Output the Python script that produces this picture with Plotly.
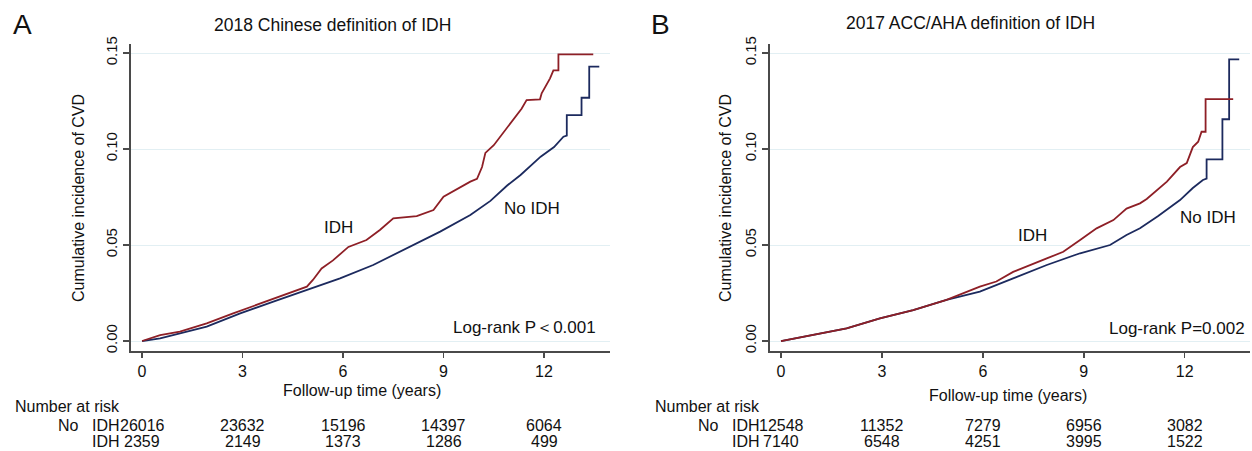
import plotly.graph_objects as go

# ---------------- data ----------------
# Panel A: 2018 Chinese definition of IDH
a_idh_t = [0, 0.54, 1.13, 1.93, 2.72, 3.42, 4.12, 4.92, 5.1, 5.36, 5.7, 6.16, 6.7, 7.1, 7.5, 8.2, 8.7,
           9.0, 9.8, 10.0, 10.15, 10.25, 10.5, 10.9, 11.33, 11.48, 11.88, 11.93, 12.08, 12.18, 12.28,
           12.43, 12.43, 13.47]
a_idh_v = [0, 0.0031, 0.0049, 0.0092, 0.0144, 0.0188, 0.0231, 0.0283, 0.0318, 0.0378, 0.042, 0.049,
           0.0526, 0.0578, 0.0639, 0.0651, 0.0682, 0.0752, 0.083, 0.0845, 0.0906, 0.098, 0.102, 0.111,
           0.121, 0.1255, 0.1259, 0.129, 0.1333, 0.1368, 0.141, 0.141, 0.1493, 0.1493]
a_no_t = [0, 0.54, 1.93, 2.93, 3.92, 4.92, 5.91, 6.9, 7.9, 8.9, 9.8, 10.4, 10.9, 11.3, 11.9, 12.3,
          12.58, 12.68, 12.68, 13.12, 13.12, 13.35, 13.35, 13.65]
a_no_v = [0, 0.0014, 0.0075, 0.0144, 0.0205, 0.0266, 0.0326, 0.0396, 0.0483, 0.057, 0.0656, 0.073,
          0.081, 0.0865, 0.096, 0.101, 0.1064, 0.107, 0.1177, 0.1177, 0.1267, 0.1267, 0.1429, 0.1429]

# Panel B: 2017 ACC/AHA definition of IDH
b_idh_t = [0, 0.96, 1.95, 2.94, 3.93, 4.92, 5.91, 6.4, 6.9, 7.9, 8.39, 8.89, 9.38, 9.88, 10.27, 10.67,
           10.87, 11.47, 11.86, 12.06, 12.24, 12.4, 12.5, 12.62, 12.62, 13.44]
b_idh_v = [0, 0.0031, 0.0066, 0.0118, 0.0161, 0.0214, 0.0283, 0.031, 0.036, 0.043, 0.0465, 0.0526,
           0.0587, 0.063, 0.069, 0.0717, 0.074, 0.083, 0.0906, 0.0927, 0.101, 0.1038, 0.109, 0.109,
           0.126, 0.126]
b_no_t = [0, 0.96, 1.95, 2.94, 3.93, 4.92, 5.91, 6.9, 7.9, 8.89, 9.78, 10.27, 10.67, 11.2, 11.86, 12.24,
          12.54, 12.65, 12.65, 13.12, 13.12, 13.32, 13.32, 13.62]
b_no_v = [0, 0.0031, 0.0066, 0.0118, 0.0161, 0.0214, 0.0257, 0.0326, 0.0396, 0.0457, 0.05, 0.0552,
          0.0587, 0.065, 0.0734, 0.0797, 0.0839, 0.0846, 0.0946, 0.0946, 0.1155, 0.1155, 0.1467, 0.1467]

risk_times = [0, 3, 6, 9, 12]
a_risk_no = [26016, 23632, 15196, 14397, 6064]
a_risk_idh = [2359, 2149, 1373, 1286, 499]
b_risk_no = [12548, 11352, 7279, 6956, 3082]
b_risk_idh = [7140, 6548, 4251, 3995, 1522]

x_ticks = [0, 3, 6, 9, 12]
y_ticks = [0.00, 0.05, 0.10, 0.15]
y_tick_text = ["0.00", "0.05", "0.10", "0.15"]

titles = ["2018 Chinese definition of IDH", "2017 ACC/AHA definition of IDH"]
pvals = ["Log-rank P\uff1c0.001", "Log-rank P=0.002"]

# ---------------- styling ----------------
W, H = 1252, 451
RED = "#8e1f26"
NAVY = "#1c2a5e"
FONT = "Liberation Sans, Arial, sans-serif"
AXC = "#4a4a4a"
GRID = "#e2eff3"


def px(x):
    return x / W


def py(y):
    return 1 - y / H


fig = go.Figure()

fig.add_trace(go.Scatter(x=a_no_t, y=a_no_v, mode="lines", line=dict(color=NAVY, width=1.8),
                         xaxis="x", yaxis="y", showlegend=False, hoverinfo="skip"))
fig.add_trace(go.Scatter(x=a_idh_t, y=a_idh_v, mode="lines", line=dict(color=RED, width=1.8),
                         xaxis="x", yaxis="y", showlegend=False, hoverinfo="skip"))
fig.add_trace(go.Scatter(x=b_no_t, y=b_no_v, mode="lines", line=dict(color=NAVY, width=1.8),
                         xaxis="x2", yaxis="y2", showlegend=False, hoverinfo="skip"))
fig.add_trace(go.Scatter(x=b_idh_t, y=b_idh_v, mode="lines", line=dict(color=RED, width=1.8),
                         xaxis="x2", yaxis="y2", showlegend=False, hoverinfo="skip"))

xax = dict(tickvals=x_ticks, ticks="outside", ticklen=5, tickwidth=1.4, tickcolor=AXC,
           showline=True, linecolor=AXC, linewidth=1.6, showgrid=False, zeroline=False,
           automargin=False, fixedrange=True,
           tickfont=dict(family=FONT, size=16, color="#111"))
yax = dict(tickvals=y_ticks, ticktext=y_tick_text, ticks="outside", ticklen=6, tickwidth=1.4,
           tickcolor=AXC, showline=True, linecolor=AXC, linewidth=1.6, showgrid=True,
           gridcolor=GRID, gridwidth=1, zeroline=False, tickangle=-90, automargin=False,
           fixedrange=True, range=[-0.0052, 0.1547],
           tickfont=dict(family=FONT, size=15, color="#111"))

y_dom = [py(351), py(44)]
fig.update_layout(
    width=W, height=H, margin=dict(l=0, r=0, t=0, b=0, pad=0, autoexpand=False),
    plot_bgcolor="white", paper_bgcolor="white",
    xaxis=dict(xax, domain=[px(131), px(610)], range=[-0.33, 13.97], anchor="y"),
    yaxis=dict(yax, domain=y_dom, anchor="x"),
    xaxis2=dict(xax, domain=[px(770), px(1250)], range=[-0.327, 13.94], anchor="y2"),
    yaxis2=dict(yax, domain=y_dom, anchor="x2"),
)

ann = []


def text(x, y, s, size=16, xanchor="center", angle=0, xref="paper"):
    ann.append(dict(x=x, y=py(y), xref=xref, yref="paper", text=s, showarrow=False,
                    xanchor=xanchor, yanchor="middle", textangle=angle, borderpad=0,
                    font=dict(family=FONT, size=size, color="#111")))


# panel letters
text(px(22), 25, "A", size=28)
text(px(661), 25, "B", size=28)
# titles
text(px(332), 25, titles[0], size=17.5)
text(px(970), 23, titles[1], size=17.5)
# axis titles
text(px(79), 198, "Cumulative incidence of CVD", size=16, angle=-90)
text(px(726), 198, "Cumulative incidence of CVD", size=16, angle=-90)
text(px(362), 390, "Follow-up time (years)", size=16)
text(px(1008), 395, "Follow-up time (years)", size=16)
# curve labels
text(px(338), 227, "IDH", size=17)
text(px(532), 208, "No IDH", size=17)
text(px(597), 327, pvals[0], size=17, xanchor="right")
text(px(1032), 235, "IDH", size=17)
text(px(1208), 217, "No IDH", size=17)
text(px(1246), 328, pvals[1], size=17, xanchor="right")

# risk tables
for off, xr, rno, ridh in [(0, "x", a_risk_no, a_risk_idh), (640, "x2", b_risk_no, b_risk_idh)]:
    text(px(14 + off), 406, "Number at risk", xanchor="left")
    text(px(80 + off), 425, "No", xanchor="right")
    text(px(91 + off), 425, "IDH", xanchor="left")
    text(px(91 + off), 441, "IDH", xanchor="left")
    for t, n1, n2 in zip(risk_times, rno, ridh):
        text(t, 425, str(n1), xref=xr)
        text(t, 441, str(n2), xref=xr)

fig.update_layout(annotations=ann)
fig.write_html(
    "out.html",
    config={"displayModeBar": False, "staticPlot": True},
    post_script="document.body.style.margin='0';document.body.style.padding='0';"
                "document.documentElement.style.overflow='hidden';",
)
